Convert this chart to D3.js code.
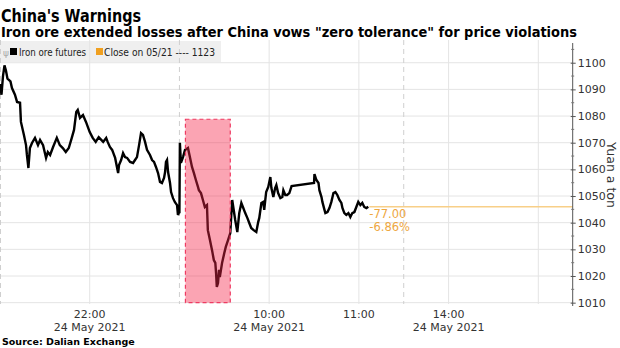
<!DOCTYPE html>
<html>
<head>
<meta charset="utf-8">
<script src="https://cdn.jsdelivr.net/npm/d3@7"></script>
<style>
  html, body { margin: 0; padding: 0; background: #fff; }
  svg { display: block; font-family: "DejaVu Sans", sans-serif; }
</style>
</head>
<body>
<svg id="chart" width="620" height="348"></svg>
<script>
// ---- DATA ----
// Trading minutes since the 21:00 night-session open (night 21:00-23:00, day 9:00-11:30, 13:30-15:00)
const minutes = [
  0, 1, 2, 3, 4, 5, 7, 8, 10, 11.4, 13.4, 14, 16, 17.4, 18, 19, 20, 21.4, 23.4, 25.4,
  26.8, 28.8, 30.8, 32, 33.5, 35.5, 38, 40, 42, 44, 46, 48, 49.5, 51, 52, 53.5, 55.5, 57.5, 60, 62,
  64, 66, 69, 71, 72, 73.5, 75, 77, 79, 79.6, 81, 82.3, 83.6, 85, 87, 89, 90.3, 91.6, 93, 94.3,
  95.6, 97, 98.3, 100.3, 101.7, 103, 104.3, 105.7, 107, 108.3, 109.7, 110.4, 111, 111.7, 112.4, 113.7, 114.4, 115.7, 117, 118.4,
  119, 119.8, 120, 120.3, 121, 122.4, 123.7, 125.7, 127, 128.4, 129.7, 131, 132.4, 133, 134.4, 135.7, 137, 138.4, 139, 140.4,
  141.8, 143, 144, 144.5, 145, 145.8, 146.5, 147, 148.5, 150, 151, 152.5, 154, 154.6, 155.3, 156, 157.3, 158.7, 160, 161.4,
  162.7, 164, 165.4, 166.7, 168, 169.4, 171.4, 172.7, 173.4, 174.8, 176, 176.7, 177.4, 178, 179.4, 180.8, 181.5, 182.8, 184, 184.8,
  186, 187.5, 188.8, 189.5, 190.8, 192, 193.5, 195, 210, 210.3, 211.6, 213, 213.6, 215, 215.6, 217, 217.6, 219, 220.3, 221.6,
  223, 224.3, 225.6, 227, 228.3, 229, 230.3, 231.6, 233, 234.3, 235.6, 237, 238.3, 239.6, 241, 242.3, 243.6, 245, 246.3
];
const prices = [
  1092, 1088, 1095, 1099, 1097, 1094, 1093, 1090.5, 1088, 1085.3, 1085, 1077.8, 1072.9, 1069.1, 1065.4, 1060.5, 1068, 1069.9, 1071.8, 1069.1,
  1071, 1069.1, 1064.3, 1066.5, 1065.4, 1068.4, 1071.8, 1069.1, 1068, 1066.5, 1068, 1071.8, 1074.8, 1081.5, 1082.3, 1079.3, 1080.4, 1077.8, 1074, 1071.8,
  1070.3, 1072.1, 1070.3, 1071.8, 1070.3, 1068.4, 1067.3, 1064.3, 1058.6, 1061.6, 1063.5, 1066.1, 1064.6, 1064.3, 1062.8, 1062.4, 1063.5, 1064.6, 1069.1, 1073.6,
  1072.9, 1070.3, 1067.3, 1065.4, 1063.5, 1062.8, 1060.9, 1058.6, 1055.3, 1054.9, 1056.8, 1059, 1062.8, 1063.5, 1059, 1054.9, 1051.5, 1049.2, 1047.7, 1046.6,
  1042.9, 1044, 1044, 1070, 1062.4, 1064.6, 1067.3, 1068, 1064.6, 1060.9, 1058.6, 1056, 1053.4, 1052.2, 1051.1, 1048.5, 1045.9, 1046.6, 1037.2, 1033.5,
  1029.7, 1026, 1024.9, 1021.1, 1015.9, 1017.4, 1022.3, 1019.6, 1024.9, 1028.6, 1030.9, 1033.5, 1036.1, 1042.1, 1048.5, 1045.9, 1041, 1036.5, 1043.6, 1047.4,
  1045.5, 1043.6, 1041.8, 1039.9, 1038, 1037.3, 1036.5, 1040.3, 1041.8, 1047.4, 1047.8, 1044.8, 1048.5, 1051.5, 1053.4, 1057.1, 1053, 1049.6, 1053, 1054.1,
  1051.1, 1049.2, 1049.6, 1052.2, 1050.4, 1050.4, 1051.1, 1053.7, 1054.9, 1058.2, 1056, 1054.9, 1052.2, 1049.6, 1047.8, 1044.8, 1043.6, 1044, 1045.5, 1047.8,
  1051.1, 1051.5, 1050.4, 1048.5, 1047.4, 1045.5, 1043.6, 1042.9, 1043.6, 1042.1, 1043.6, 1044, 1045.9, 1047.8, 1046.6, 1047.4, 1045.9, 1045.5, 1046
];
const prevClose = 1123;
const lastPrice = 1046;
const yTicks = [1010, 1020, 1030, 1040, 1050, 1060, 1070, 1080, 1090, 1100];
const xTickMinutes = [60, 180, 240, 300, 360];
const xTickTimes = ["22:00", "10:00", "11:00", "14:00", ""];
const xTickDates = ["24 May 2021", "24 May 2021", "", "24 May 2021", ""];
const sessionBreaks = [0, 120, 270];
const highlightStart = 124, highlightEnd = 154;   // 9:04 - 9:34
const highlightLow = 1010, highlightHigh = 1078.8;

// ---- LAYOUT ----
const svg = d3.select("#chart");
const pLeft = 0, pRight = 572.7, pTop = 43, pBottom = 304;
const x = d3.scaleLinear().domain([0, 383]).range([pLeft, pRight]);
const y = d3.scaleLinear().domain([1009.5, 1107.4]).range([pBottom, pTop]);

// titles
svg.append("text").attr("x", 1).attr("y", 22)
  .attr("font-family", "'DejaVu Sans', sans-serif").attr("font-weight", "bold")
  .attr("font-size", 18).attr("fill", "#000")
  .attr("textLength", 140).attr("lengthAdjust", "spacingAndGlyphs")
  .text("China's Warnings");
svg.append("text").attr("x", 1).attr("y", 37)
  .attr("font-family", "'DejaVu Sans', sans-serif").attr("font-weight", "bold")
  .attr("font-size", 13.5).attr("fill", "#000")
  .attr("textLength", 576).attr("lengthAdjust", "spacingAndGlyphs")
  .text('Iron ore extended losses after China vows "zero tolerance" for price violations');

// legend background
svg.append("rect").attr("x", 0).attr("y", 41).attr("width", 221).attr("height", 21).attr("fill", "#efefef");

// horizontal grid
svg.append("g").selectAll("line").data(yTicks).join("line")
  .attr("x1", pLeft).attr("x2", pRight)
  .attr("y1", d => y(d)).attr("y2", d => y(d))
  .attr("stroke", "#e4e4e4").attr("stroke-width", 1);

// vertical grid
svg.append("g").selectAll("line").data(xTickMinutes).join("line")
  .attr("x1", d => x(d)).attr("x2", d => x(d))
  .attr("y1", 40).attr("y2", pBottom)
  .attr("stroke", "#e4e4e4").attr("stroke-width", 1);
svg.append("g").selectAll("line").data(sessionBreaks).join("line")
  .attr("x1", d => Math.max(0.5, x(d))).attr("x2", d => Math.max(0.5, x(d)))
  .attr("y1", 40).attr("y2", pBottom)
  .attr("stroke", "#cfcfcf").attr("stroke-width", 1).attr("stroke-dasharray", "5,4");

// legend content
const lg = svg.append("g").attr("font-family", "'DejaVu Sans', sans-serif").attr("font-size", 10.5).attr("fill", "#222");
lg.append("text").attr("x", 3).attr("y", 56).attr("fill", "#aaa").attr("font-size", 9).text("ψ");
lg.append("rect").attr("x", 10).attr("y", 48).attr("width", 7).attr("height", 7).attr("fill", "#000");
lg.append("text").attr("x", 19).attr("y", 56).attr("textLength", 67).attr("lengthAdjust", "spacingAndGlyphs").text("Iron ore futures");
lg.append("rect").attr("x", 96).attr("y", 48).attr("width", 7).attr("height", 7).attr("fill", "#f0a020");
lg.append("text").attr("x", 104).attr("y", 56).attr("textLength", 111).attr("lengthAdjust", "spacingAndGlyphs")
  .text("Close on 05/21 ---- " + prevClose);

// price line
const pts = minutes.map((m, i) => [m, prices[i]]);
const line = d3.line().x(d => x(d[0])).y(d => y(d[1]));
svg.append("path").datum(pts).attr("d", line)
  .attr("fill", "none").attr("stroke", "#000").attr("stroke-width", 2.4)
  .attr("stroke-linejoin", "miter");

// last-price line
const lastM = minutes[minutes.length - 1];
svg.append("line").attr("x1", x(lastM) + 1).attr("x2", pRight)
  .attr("y1", y(lastPrice)).attr("y2", y(lastPrice))
  .attr("stroke", "#f8cf88").attr("stroke-width", 1.4);

// annotation
const chg = lastPrice - prevClose;
const pct = chg / prevClose * 100;
svg.append("text").attr("x", x(lastM) + 1).attr("y", y(lastPrice) + 11)
  .attr("font-family", "'DejaVu Sans', sans-serif").attr("font-size", 11.5).attr("fill", "#eea73f")
  .text(chg.toFixed(2));
svg.append("text").attr("x", x(lastM) + 1).attr("y", y(lastPrice) + 24)
  .attr("font-family", "'DejaVu Sans', sans-serif").attr("font-size", 11.5).attr("fill", "#eea73f")
  .text(pct.toFixed(2) + "%");

// highlight box
svg.append("rect")
  .attr("x", x(highlightStart)).attr("y", y(highlightHigh))
  .attr("width", x(highlightEnd) - x(highlightStart))
  .attr("height", y(highlightLow) - y(highlightHigh))
  .attr("fill", "rgb(246,37,74)").attr("fill-opacity", 0.42)
  .attr("stroke", "#ee3b62").attr("stroke-width", 1.2).attr("stroke-dasharray", "4,3");

// right axis
const yAxis = d3.axisRight(y).tickValues(yTicks).tickSize(3).tickPadding(2).tickFormat(d3.format("d"));
const ya = svg.append("g").attr("transform", `translate(${pRight},0)`).call(yAxis);
ya.select(".domain").attr("d", `M0,${pTop}V${pBottom + 2}`).attr("stroke", "#555");
ya.selectAll(".tick line").attr("stroke", "#555").attr("x1", -2);
ya.selectAll(".tick text").attr("font-family", "'DejaVu Sans', sans-serif").attr("font-size", 11).attr("fill", "#333");
// minor ticks
const minor = d3.range(1015, 1107, 5).filter(v => v % 10 !== 0);
ya.append("g").selectAll("line").data(minor).join("line")
  .attr("x1", -1.5).attr("x2", 1.5).attr("y1", d => y(d)).attr("y2", d => y(d))
  .attr("stroke", "#777");

// y axis title
svg.append("text")
  .attr("transform", `translate(607,175) rotate(90)`)
  .attr("text-anchor", "middle")
  .attr("font-family", "'DejaVu Sans', sans-serif").attr("font-size", 12.5).attr("fill", "#333")
  .text("Yuan a ton");

// x axis labels
const xa = svg.append("g").attr("font-family", "'DejaVu Sans', sans-serif").attr("font-size", 11).attr("fill", "#333").attr("text-anchor", "middle");
xa.selectAll("text.t").data(xTickMinutes).join("text").attr("class", "t")
  .attr("x", d => x(d)).attr("y", 318).text((d, i) => xTickTimes[i]);
xa.selectAll("text.d").data(xTickMinutes).join("text").attr("class", "d")
  .attr("x", d => x(d)).attr("y", 331).text((d, i) => xTickDates[i]);

// source
svg.append("text").attr("x", 2).attr("y", 345)
  .attr("font-family", "'DejaVu Sans', sans-serif").attr("font-weight", "bold").attr("font-size", 9.5).attr("fill", "#000")
  .text("Source: Dalian Exchange");
</script>
</body>
</html>
